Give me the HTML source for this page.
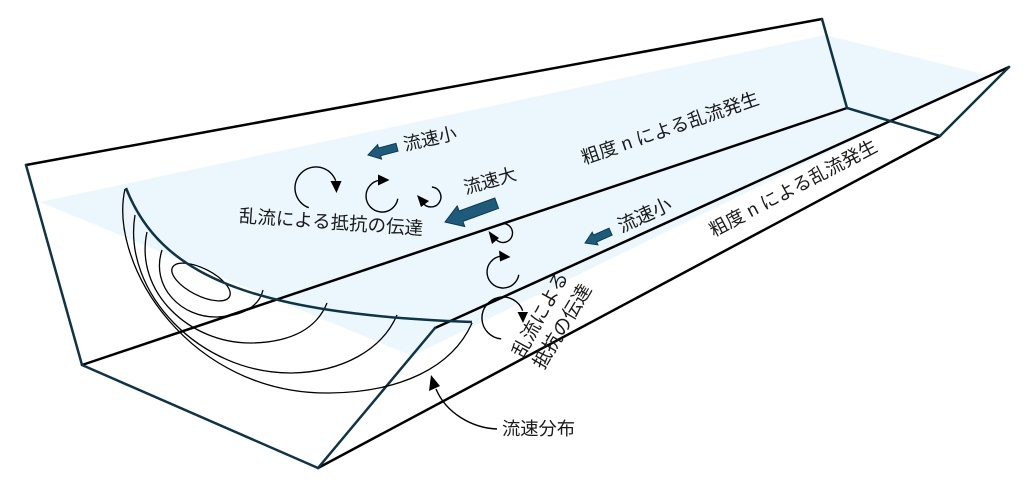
<!DOCTYPE html>
<html>
<head>
<meta charset="utf-8">
<style>
  html, body { margin: 0; padding: 0; background: #ffffff; }
  body { width: 1024px; height: 483px; overflow: hidden; }
  svg { display: block; }
  text { font-family: "Liberation Sans", "Noto Sans CJK JP", sans-serif; fill: #1a1a1a; }
</style>
</head>
<body>
<svg width="1024" height="483" viewBox="0 0 1024 483" xmlns="http://www.w3.org/2000/svg">
  <!-- water surface (light blue) -->
  <polygon points="40,202 825,35 987,75 412,356" fill="#ECF7FD"/>

  <!-- long black edges -->
  <g stroke="#000" stroke-width="2.5" fill="none" stroke-linecap="round">
    <line x1="26" y1="165" x2="822" y2="19"/>
    <line x1="82" y1="365" x2="847" y2="108"/>
    <line x1="318" y1="468" x2="940" y2="136"/>
    <line x1="435" y1="328" x2="1009" y2="67"/>
  </g>

  <!-- navy cross-section edges -->
  <g stroke="#0E3446" stroke-width="2.5" fill="none" stroke-linejoin="miter" stroke-linecap="round">
    <polyline points="26,165 82,365 318,468 435,328"/>
    <polyline points="822,19 847,108 940,136 1009,67"/>
  </g>

  <!-- velocity distribution contours -->
  <g stroke="#000" stroke-width="1.3" fill="none">
    <path d="M125,189 C108,265 190,395 330,393 C400,392 452,368 472,323"/>
    <path d="M135,215 C122,292 200,374 292,373 C342,372 382,350 397,315"/>
    <path d="M147,232 C134,292 190,344 252,343 C292,342 317,328 327,303"/>
    <path d="M162,250 C150,287 182,318 217,317 C242,316 259,307 263,290"/>
    <ellipse cx="201" cy="282" rx="32" ry="13.5" transform="rotate(27 201 282)"/>
  </g>
  <!-- navy top curve of profile -->
  <path d="M126,188 C160,275 250,314 472,322" stroke="#0E3446" stroke-width="2.5" fill="none"/>

  <!-- eddies -->
  <g stroke="#000" stroke-width="1.4" fill="none">
    <path d="M308.8,207.7 A21,21 0 1 1 335.7,180.8"/>
    <path d="M397.8,198.8 A16,16 0 1 1 379.8,180.2"/>
    <path d="M431.9,187 A10,10 0 1 1 422.3,202"/>
    <path d="M503,223.5 A9.5,9.5 0 1 1 494.4,237"/>
    <path d="M518.8,274.8 A16,16 0 1 1 500.8,256.2"/>
    <path d="M501.2,338.9 A21,21 0 1 1 522.7,310.8"/>
  </g>
  <g fill="#000">
    <polygon points="330.5,181 341.5,181 336.5,193"/>
    <polygon points="378,174.5 378,185.5 389.5,180"/>
    <polygon points="417,195 421,207 429,201"/>
    <polygon points="488.5,231 492,244 499,238"/>
    <polygon points="499,250.5 500,261.5 510.5,257"/>
    <polygon points="517.5,312 528,312 523,323"/>
  </g>

  <!-- flow arrows -->
  <g fill="#1E5B7B" stroke="#0F3A50" stroke-width="1" stroke-linejoin="miter">
    <polygon transform="translate(445,222) rotate(-20)" points="0,0 17,-11 17,-5.5 55,-5.5 55,5.5 17,5.5 17,11"/>
    <polygon transform="translate(368,155) rotate(-15)" points="0,0 12,-7.5 12,-4 30,-4 30,4 12,4 12,7.5"/>
    <polygon transform="translate(585,243) rotate(-24)" points="0,0 11,-7 11,-3.8 28,-3.8 28,3.8 11,3.8 11,7"/>
  </g>

  <!-- leader for 流速分布 -->
  <path d="M497,429 C472,428 446,413 436,389" stroke="#000" stroke-width="1.4" fill="none"/>
  <polygon points="431,375 440,386 429,391" fill="#000"/>

  <!-- labels -->
  <g font-size="18.5">
    <text x="0" y="0" text-anchor="middle" dominant-baseline="central" transform="translate(430,139) rotate(-13)" font-size="18">流速小</text>
    <text x="0" y="0" text-anchor="middle" dominant-baseline="central" transform="translate(490,181) rotate(-16)" font-size="18">流速大</text>
    <text x="0" y="0" text-anchor="middle" dominant-baseline="central" transform="translate(331,222) rotate(4)">乱流による抵抗の伝達</text>
    <text x="0" y="0" text-anchor="middle" dominant-baseline="central" transform="translate(670,128) rotate(-19)">粗度 n による乱流発生</text>
    <text x="0" y="0" text-anchor="middle" dominant-baseline="central" transform="translate(793,188) rotate(-27.7)">粗度 n による乱流発生</text>
    <text x="0" y="0" text-anchor="middle" dominant-baseline="central" transform="translate(645,216) rotate(-25)" font-size="19">流速小</text>
    <text x="0" y="0" text-anchor="middle" dominant-baseline="central" transform="translate(541,315) rotate(-61)" font-size="19">乱流による</text>
    <text x="0" y="0" text-anchor="middle" dominant-baseline="central" transform="translate(563,327) rotate(-59)" font-size="19">抵抗の伝達</text>
    <text x="538.5" y="428.5" text-anchor="middle" dominant-baseline="central" font-size="18.3">流速分布</text>
  </g>
</svg>
</body>
</html>
